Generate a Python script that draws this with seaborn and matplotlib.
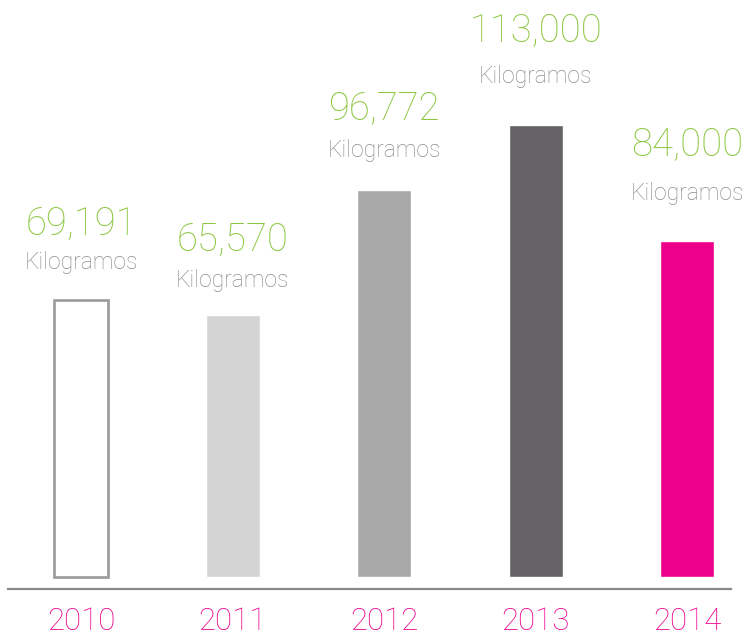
import pandas as pd
import seaborn as sns
import matplotlib.pyplot as plt

# values
years = ['2010', '2011', '2012', '2013', '2014']
kilos = [69191, 65570, 96772, 113000, 84000]
unit = 'Kilogramos'

bar_colors = ['#ffffff', '#d4d4d4', '#a9a8a9', '#646264', '#ec008c']
outline_gray = '#9b9b9b'
green = '#8cc63f'
label_gray = '#8c8c8c'
magenta = '#ec008c'

# label offsets above the bar tops (pixels)
num_offsets = [66, 65, 71, 84, 86]
unit_offsets = [31, 28, 33, 42, 41]


def main():
    df = pd.DataFrame({'year': years, 'kg': kilos})

    sns.set_style('white')
    plt.rcParams['font.family'] = ['Roboto', 'DejaVu Sans']

    fig = plt.figure(figsize=(7.49, 6.35), dpi=100)
    ax = fig.add_axes([8 / 749, 46 / 635, 723 / 749, 589 / 635])

    sns.barplot(data=df, x='year', y='kg', hue='year', palette=bar_colors,
                legend=False, width=0.356, ax=ax, saturation=1)

    # the 2010 bar is only an outline
    first = ax.patches[0]
    first.set_facecolor('white')
    first.set_edgecolor(outline_gray)
    first.set_linewidth(1.9)

    for i, val in enumerate(kilos):
        ax.annotate(f'{val:,}', xy=(i, val), xytext=(0, num_offsets[i]),
                    textcoords='offset pixels', ha='center', va='baseline',
                    fontsize=27.5, fontweight='light', color=green)
        ax.annotate(unit, xy=(i, val), xytext=(0, unit_offsets[i]),
                    textcoords='offset pixels', ha='center', va='baseline',
                    fontsize=16.5, fontweight='light', color=label_gray)

    ax.set_xlim(-0.482, 4.29)
    ax.set_ylim(-3000, 144250)
    ax.set_xlabel('')
    ax.set_ylabel('')
    ax.set_yticks([])
    ax.tick_params(axis='x', length=0, pad=13, labelsize=22.5, labelcolor=magenta)
    for lab in ax.get_xticklabels():
        lab.set_fontweight('light')

    for side in ['top', 'left', 'right']:
        ax.spines[side].set_visible(False)
    ax.spines['bottom'].set_color('#8a8a8a')
    ax.spines['bottom'].set_linewidth(1.6)

    fig.savefig('out.png', dpi=100)


if __name__ == '__main__':
    main()
